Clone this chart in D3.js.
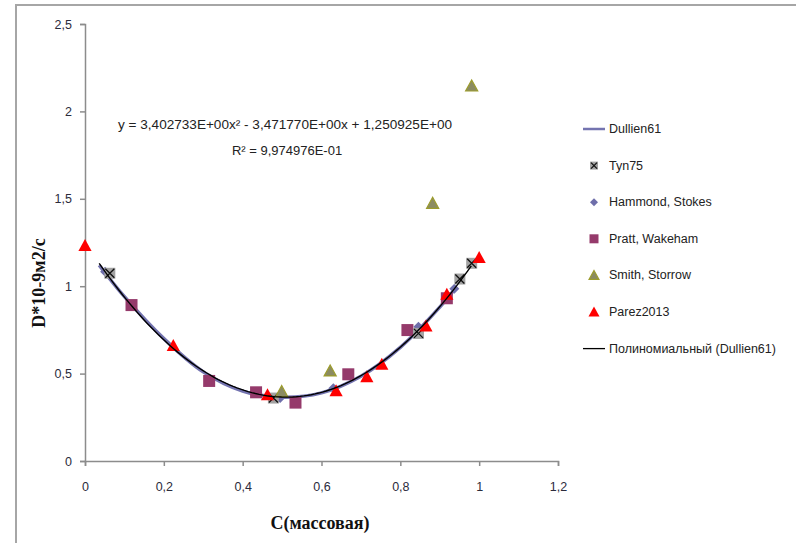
<!DOCTYPE html>
<html>
<head>
<meta charset="utf-8">
<script src="https://cdn.jsdelivr.net/npm/d3@7"></script>
<style>
  html, body { margin: 0; padding: 0; background: #fff; }
  svg { display: block; font-family: "Liberation Sans", "DejaVu Sans", sans-serif; }
</style>
</head>
<body>
<svg id="chart" width="796" height="543"></svg>
<script>
// Diffusion coefficient D (10^-9 m2/s) versus mass fraction C
const xTicks = [0, 0.2, 0.4, 0.6, 0.8, 1, 1.2];
const yTicks = [0, 0.5, 1, 1.5, 2, 2.5];

const dullien61 = [
  [0.036, 1.12], [0.1, 0.94], [0.2, 0.70], [0.3, 0.51], [0.4, 0.40],
  [0.5, 0.365], [0.6, 0.39], [0.7, 0.485], [0.8, 0.65], [0.9, 0.88], [0.94, 0.99]
];
const tyn75 = [[0.063, 1.074], [0.478, 0.36], [0.846, 0.73], [0.951, 1.041], [0.981, 1.131]];
const hammondStokes = [[0.051, 1.083], [0.495, 0.36], [0.63, 0.416], [0.846, 0.768], [0.937, 0.985]];
const prattWakeham = [[0.118, 0.892], [0.315, 0.458], [0.434, 0.393], [0.534, 0.334],
                      [0.668, 0.496], [0.818, 0.749], [0.918, 0.931]];
const smithStorrow = [[0.499, 0.397], [0.622, 0.515], [0.882, 1.474], [0.981, 2.145]];
const parez2013 = [[0, 1.232], [0.224, 0.66], [0.463, 0.378], [0.637, 0.402], [0.715, 0.482],
                   [0.753, 0.553], [0.865, 0.772], [0.918, 0.954], [1.0, 1.163]];

// Second-order polynomial trend fitted to Dullien61
const trendCoef = [3.402733, -3.471770, 1.250925];
const trendRange = [0.036, 0.98];
const trendLabel = "y = 3,402733E+00x² - 3,471770E+00x + 1,250925E+00";
const r2Label = "R² = 9,974976E-01";

const legendItems = ["Dullien61", "Tyn75", "Hammond, Stokes", "Pratt, Wakeham",
                     "Smith, Storrow", "Parez2013", "Полиномиальный (Dullien61)"];

const svg = d3.select("#chart");
const comma = v => String(v).replace(".", ",");

// outer chart frame
svg.append("path")
  .attr("d", "M16,543 L16,5 L796,5")
  .attr("fill", "none").attr("stroke", "#a6a6a6").attr("stroke-width", 2);

const x = d3.scaleLinear().domain([0, 1.2]).range([85, 558]);
const y = d3.scaleLinear().domain([0, 2.5]).range([461, 24]);

const axisColor = "#8c8c8c";

const gx = svg.append("g").attr("transform", "translate(0,461)")
  .call(d3.axisBottom(x).tickValues(xTicks).tickFormat(comma).tickSize(5).tickPadding(16));
const gy = svg.append("g").attr("transform", "translate(85,0)")
  .call(d3.axisLeft(y).tickValues(yTicks).tickFormat(comma).tickSize(5).tickPadding(8));
[gx, gy].forEach(g => {
  g.attr("font-family", null);
  g.select(".domain").attr("stroke", axisColor).attr("stroke-width", 1.5);
  g.selectAll(".tick line").attr("stroke", axisColor).attr("stroke-width", 1.5);
  g.selectAll(".tick text").attr("fill", "#2b2b3b").attr("font-size", 12.5);
});

// axis titles
svg.append("text").attr("x", 320).attr("y", 529).attr("text-anchor", "middle")
  .style("font-family", "'Liberation Serif', 'DejaVu Serif', serif").attr("font-weight", "bold")
  .attr("font-size", 18).attr("fill", "#111").text("C(массовая)");
svg.append("text").attr("transform", "translate(45,283) rotate(-90)").attr("text-anchor", "middle")
  .style("font-family", "'Liberation Serif', 'DejaVu Serif', serif").attr("font-weight", "bold")
  .attr("font-size", 18).attr("fill", "#111").text("D*10-9м2/с");

// Dullien61 line series
const line = d3.line().x(d => x(d[0])).y(d => y(d[1])).curve(d3.curveCatmullRom);
svg.append("path").datum(dullien61).attr("d", line)
  .attr("fill", "none").attr("stroke", "#7474b0").attr("stroke-width", 3.5);

// marker drawing helpers
function tri(s) { return `M0,${-s * 0.55} L${s * 0.55},${s * 0.45} L${-s * 0.55},${s * 0.45} Z`; }
function drawMarker(g, type, s) {
  if (type === "x") {
    g.append("rect").attr("x", -s / 2).attr("y", -s / 2).attr("width", s).attr("height", s)
      .attr("fill", "#a3a3a3");
    const h = s / 2 - 1;
    g.append("path").attr("d", `M${-h},${-h}L${h},${h}M${-h},${h}L${h},${-h}`)
      .attr("stroke", "#111").attr("stroke-width", 1.3);
  } else if (type === "diamond") {
    g.append("path").attr("d", `M0,${-s / 2}L${s / 2},0L0,${s / 2}L${-s / 2},0Z`).attr("fill", "#6e6eaa");
  } else if (type === "square") {
    g.append("rect").attr("x", -s / 2).attr("y", -s / 2).attr("width", s).attr("height", s)
      .attr("fill", "#953a6b");
  } else if (type === "olive") {
    g.append("path").attr("d", tri(s)).attr("fill", "#8b8b62").attr("stroke", "#9c9c2c").attr("stroke-width", 1.2);
  } else if (type === "red") {
    g.append("path").attr("d", tri(s)).attr("fill", "#ff0000");
  }
}
function drawSeries(data, type, s) {
  const g = svg.append("g");
  data.forEach(d => {
    drawMarker(g.append("g").attr("transform", `translate(${x(d[0])},${y(d[1])})`), type, s);
  });
}

drawSeries(prattWakeham, "square", 12);
drawSeries(hammondStokes, "diamond", 10);
drawSeries(tyn75, "x", 11);
drawSeries(smithStorrow, "olive", 11);
drawSeries(parez2013, "red", 12);

// polynomial trendline
const trendPts = d3.range(0, 101).map(i => {
  const xv = trendRange[0] + (trendRange[1] - trendRange[0]) * i / 100;
  return [xv, trendCoef[0] * xv * xv + trendCoef[1] * xv + trendCoef[2]];
});
svg.append("path").datum(trendPts)
  .attr("d", d3.line().x(d => x(d[0])).y(d => y(d[1])))
  .attr("fill", "none").attr("stroke", "#000").attr("stroke-width", 1.4);

// trend equation
svg.append("text").attr("x", 118).attr("y", 129)
  .attr("font-size", 13).attr("fill", "#222")
  .attr("textLength", 334).attr("lengthAdjust", "spacingAndGlyphs").text(trendLabel);
svg.append("text").attr("x", 287).attr("y", 155).attr("text-anchor", "middle")
  .attr("font-size", 13).attr("fill", "#222").text(r2Label);

// legend
const legendTypes = ["line", "x", "diamond", "square", "olive", "red", "trend"];
const lg = svg.append("g");
legendItems.forEach((name, i) => {
  const yy = 129 + i * 36.6;
  const t = legendTypes[i];
  if (t === "line" || t === "trend") {
    lg.append("line").attr("x1", 583).attr("x2", 605).attr("y1", yy).attr("y2", yy)
      .attr("stroke", t === "line" ? "#7474b0" : "#000").attr("stroke-width", t === "line" ? 2.5 : 1.3);
  } else {
    const sizes = { x: 8, diamond: 8, square: 9, olive: 9, red: 10 };
    drawMarker(lg.append("g").attr("transform", `translate(594,${yy})`), t, sizes[t]);
  }
  lg.append("text").attr("x", 609).attr("y", yy + 4).attr("font-size", 12.5).attr("fill", "#222").text(name);
});
</script>
</body>
</html>
